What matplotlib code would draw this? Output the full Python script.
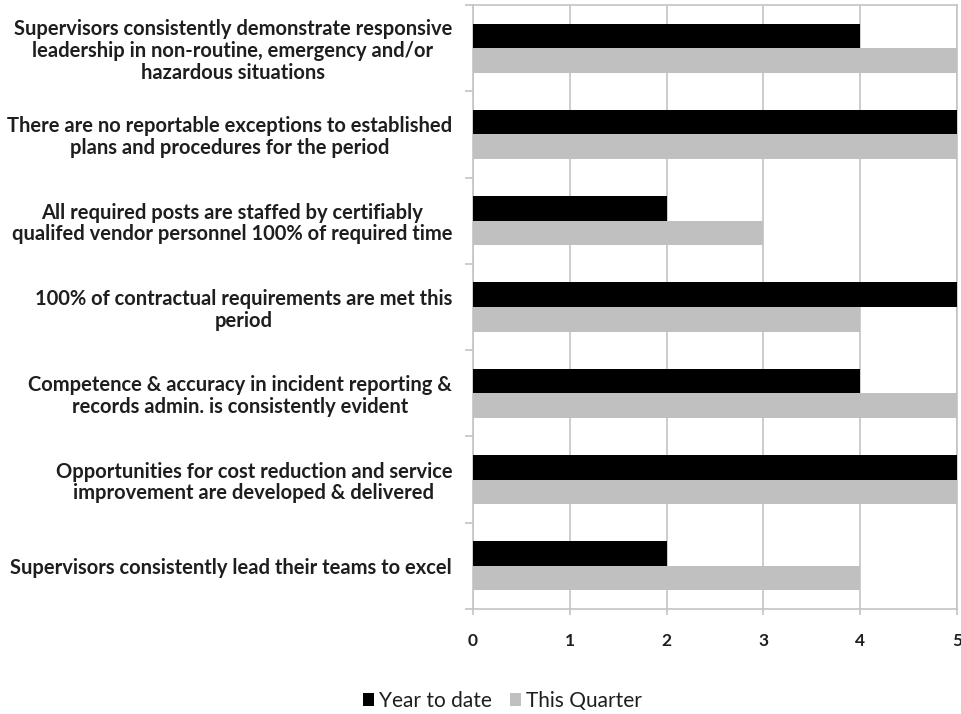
import matplotlib.pyplot as plt
import numpy as np

plt.rcParams['font.family'] = ['Lato', 'DejaVu Sans']

categories = [
    'Supervisors consistently demonstrate responsive\nleadership in non-routine, emergency and/or\nhazardous situations',
    'There are no reportable exceptions to established\nplans and procedures for the period',
    'All required posts are staffed by certifiably\nqualifed vendor personnel 100% of required time',
    '100% of contractual requirements are met this\nperiod',
    'Competence & accuracy in incident reporting &\nrecords admin. is consistently evident',
    'Opportunities for cost reduction and service\nimprovement are developed & delivered',
    'Supervisors consistently lead their teams to excel',
]
year_to_date = [4, 5, 2, 5, 4, 5, 2]
this_quarter = [5, 5, 3, 4, 5, 5, 4]

grid_col = '#c4c4c4'
text_col = '#1e1e1e'

fig = plt.figure(figsize=(9.61, 7.14), dpi=100)
ax = fig.add_axes([0.4922, 0.147, 0.5036, 0.846])

y = np.arange(len(categories))
h = 0.285
ax.barh(y - h / 2, year_to_date, height=h, color='black', label='Year to date', zorder=3)
ax.barh(y + h / 2, this_quarter, height=h, color='#c0c0c0', label='This Quarter', zorder=3)

ax.set_xlim(0, 5)
ax.set_ylim(len(categories) - 0.5, -0.5)
ax.set_xticks(range(6))
ax.grid(axis='x', color=grid_col, linewidth=1.2, zorder=0)

# boundary ticks on the y axis, labels sit at the category centres
ax.set_yticks(np.arange(len(categories) + 1) - 0.5)
ax.set_yticklabels([])
ax.set_yticks(y, minor=True)
ax.set_yticklabels(categories, minor=True, multialignment='center',
                   fontsize=14.5, fontweight='bold', color=text_col, linespacing=1.1)
ax.tick_params(axis='y', which='minor', length=0, pad=15)
ax.tick_params(axis='y', which='major', length=6, color=grid_col, width=1.2)
ax.tick_params(axis='x', length=4, color=grid_col, width=1.2, pad=13,
               labelsize=12.5, labelcolor=text_col)
for lbl in ax.get_xticklabels():
    lbl.set_fontweight('bold')

for s in ax.spines.values():
    s.set_color(grid_col)
    s.set_linewidth(1.2)

fig.legend(loc='lower center', bbox_to_anchor=(0.523, -0.022), ncol=2, frameon=False,
           fontsize=15, handlelength=0.5, handleheight=0.6, handletextpad=0.25,
           columnspacing=0.9, labelcolor=text_col)

fig.savefig('out.png', dpi=100)
